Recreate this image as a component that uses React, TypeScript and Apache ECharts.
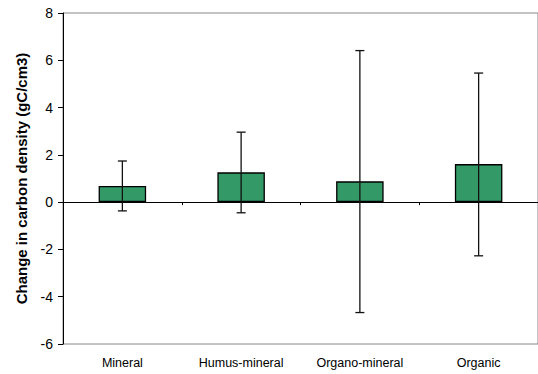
import React, { useEffect, useRef } from "react";
import * as echarts from "echarts";

const categories = ["Mineral", "Humus-mineral", "Organo-mineral", "Organic"];
const means = [0.68, 1.26, 0.88, 1.61];
const errLow = [-0.37, -0.45, -4.67, -2.27];
const errHigh = [1.74, 2.96, 6.41, 5.46];
const yTicks = { min: -6, max: 8, interval: 2 };

export default function App() {
  const ref = useRef<HTMLDivElement>(null);
  useEffect(() => {
    if (!ref.current) return;
    const chart = echarts.init(ref.current, null, { renderer: "svg" });
    const errData = categories.map((_, i) => [i, errLow[i], errHigh[i]]);
    chart.setOption({
      animation: false,
      backgroundColor: "#fff",
      textStyle: { fontFamily: "Liberation Sans, Arial, sans-serif" },
      grid: {
        left: 63,
        top: 13,
        right: -3,
        bottom: 30,
        show: true,
        borderColor: "#888",
        borderWidth: 1,
        backgroundColor: "transparent",
      },
      xAxis: [
        {
          type: "category",
          data: categories,
          position: "bottom",
          axisLine: { show: false, onZero: false },
          axisTick: { show: false },
          axisLabel: { color: "#000", fontSize: 12.5, margin: 12 },
        },
        {
          type: "category",
          data: categories,
          position: "top",
          axisLine: { show: true, onZero: true, lineStyle: { color: "#000", width: 1 } },
          axisTick: { show: true, inside: true, length: 3, lineStyle: { color: "#000" } },
          axisLabel: { show: false },
        },
      ],
      yAxis: {
        type: "value",
        min: yTicks.min,
        max: yTicks.max,
        interval: yTicks.interval,
        splitLine: { show: false },
        axisLine: { show: true, lineStyle: { color: "#000", width: 1 } },
        axisTick: { show: true, length: 5, lineStyle: { color: "#000" } },
        axisLabel: { color: "#000", fontSize: 14, margin: 10 },
        name: "Change in carbon density (gC/cm3)",
        nameLocation: "middle",
        nameGap: 34,
        nameTextStyle: { color: "#000", fontSize: 15, fontWeight: "bold" },
      },
      series: [
        {
          type: "bar",
          data: means,
          barWidth: "40%",
          itemStyle: { color: "#339966", borderColor: "#000", borderWidth: 1.3 },
        },
        {
          type: "custom",
          data: errData,
          z: 10,
          renderItem: (params: any, api: any) => {
            const i = api.value(0);
            const lo = api.coord([i, api.value(1)]);
            const hi = api.coord([i, api.value(2)]);
            const w = 4.5;
            const style = { stroke: "#111", lineWidth: 1.3 };
            return {
              type: "group",
              children: [
                { type: "line", shape: { x1: hi[0], y1: hi[1], x2: lo[0], y2: lo[1] }, style },
                { type: "line", shape: { x1: hi[0] - w, y1: hi[1], x2: hi[0] + w, y2: hi[1] }, style },
                { type: "line", shape: { x1: lo[0] - w, y1: lo[1], x2: lo[0] + w, y2: lo[1] }, style },
              ],
            };
          },
        },
      ],
    });
    return () => chart.dispose();
  }, []);
  return (
    <div
      ref={ref}
      style={{ position: "fixed", left: 0, top: 0, width: 538, height: 374 }}
    />
  );
}
